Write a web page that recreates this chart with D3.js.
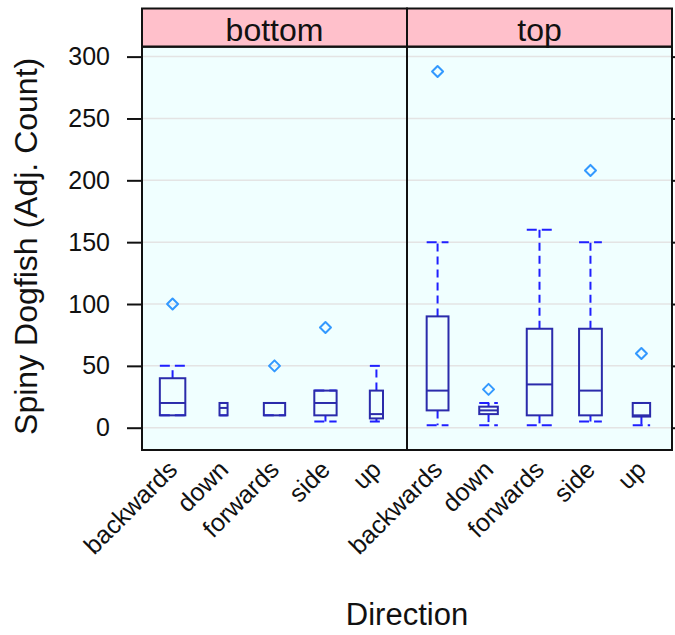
<!DOCTYPE html>
<html><head><meta charset="utf-8">
<script src="https://cdn.jsdelivr.net/npm/d3@7"></script>
<style>body{margin:0;background:#fff}</style>
</head><body>
<svg id="chart" width="675" height="635"></svg>
<script>
const panels = ["bottom", "top"];
const directions = ["backwards", "down", "forwards", "side", "up"];
const yTicks = [0, 50, 100, 150, 200, 250, 300];
// [lower whisker, Q1, median, Q3, upper whisker]
const bottomStats = [[10,10,20,40,50],[10,10,16,20,20],[10,10,20,20,20],[5,10,20,30,30],[5,7.5,11,30,50]];
const topStats = [[2,14,30,90,150],[2,11,14,17,20],[2,10,35,80,160],[5,10,30,80,150],[2,9,10,20,20]];
const bottomOutliers = [[100],[],[50],[81],[]];
const topOutliers = [[288],[31],[],[208],[60]];
const bottomN = [30,3,21,23,8];
const topN = [22,16,30,24,14];

const statsBy = {bottom: bottomStats, top: topStats};
const outBy = {bottom: bottomOutliers, top: topOutliers};
const nBy = {bottom: bottomN, top: topN};

const FONT = "'Liberation Sans', Arial, sans-serif";
const svg = d3.select("#chart");
const L = 142, R = 672, T = 46.7, B = 450, stripTop = 8.5;

const allVals = [];
panels.forEach(p => { statsBy[p].forEach(s => allVals.push(...s)); outBy[p].forEach(o => allVals.push(...o)); });
const vmin = d3.min(allVals), vmax = d3.max(allVals), pad = 0.07 * (vmax - vmin);
const y = d3.scaleLinear().domain([vmin - pad, vmax + pad]).range([B, T]);

const px = d3.scaleBand().domain(panels).range([L, R]);
const x = d3.scaleBand().domain(directions).range([0, px.bandwidth()]).paddingInner(0).paddingOuter(0.1);

const boxCol = "#2b2bab", whiskCol = "#1f1fff", outCol = "#3399ff";

panels.forEach(p => {
  const g = svg.append("g").attr("transform", `translate(${px(p)},0)`);
  const w = px.bandwidth();
  g.append("rect").attr("x",0).attr("y",T).attr("width",w).attr("height",B-T).attr("fill","#f0ffff");
  g.selectAll(".grid").data(yTicks).join("line")
    .attr("x1",0).attr("x2",w).attr("y1",d=>y(d)).attr("y2",d=>y(d))
    .attr("stroke","#e4e4e4").attr("stroke-width",1.5);
  // strip
  g.append("rect").attr("x",0).attr("y",stripTop).attr("width",w).attr("height",T-stripTop)
    .attr("fill","#ffc0cb").attr("stroke","#111").attr("stroke-width",2);
  g.append("text").attr("x",w/2).attr("y",41).attr("text-anchor","middle")
    .attr("font-family",FONT).attr("font-size",32).attr("fill","#111").text(p);

  const maxN = d3.max(nBy[p]);
  directions.forEach((d, i) => {
    const s = statsBy[p][i];
    const cx = x(d) + x.bandwidth()/2;
    const bw = x.bandwidth() * 0.5 * Math.sqrt(nBy[p][i] / maxN);
    // whiskers
    [[s[1], s[0]], [s[3], s[4]]].forEach(([a, b]) => {
      if (a !== b) g.append("line").attr("x1",cx).attr("x2",cx).attr("y1",y(a)).attr("y2",y(b))
        .attr("stroke",whiskCol).attr("stroke-width",2).attr("stroke-dasharray","8,5");
    });
    // caps
    [s[0], s[4]].forEach(v => {
      g.append("line").attr("x1",cx-bw/2).attr("x2",cx+bw/2).attr("y1",y(v)).attr("y2",y(v))
        .attr("stroke",whiskCol).attr("stroke-width",2).attr("stroke-dasharray","10,5");
    });
    // box
    g.append("rect").attr("x",cx-bw/2).attr("width",bw).attr("y",y(s[3])).attr("height",y(s[1])-y(s[3]))
      .attr("fill","none").attr("stroke",boxCol).attr("stroke-width",2);
    g.append("line").attr("x1",cx-bw/2).attr("x2",cx+bw/2).attr("y1",y(s[2])).attr("y2",y(s[2]))
      .attr("stroke",boxCol).attr("stroke-width",2);
    // outliers
    outBy[p][i].forEach(v => {
      g.append("path").attr("d","M0,-5.5L5.5,0L0,5.5L-5.5,0Z")
        .attr("transform",`translate(${cx},${y(v)})`)
        .attr("fill","none").attr("stroke",outCol).attr("stroke-width",2).attr("stroke-linejoin","round");
    });
    // x label
    g.append("text").attr("text-anchor","end").attr("dy","0.35em")
      .attr("transform",`translate(${cx},${B+15}) rotate(-45)`)
      .attr("font-family",FONT).attr("font-size",25).attr("fill","#111").text(d);
  });
  g.append("rect").attr("x",0).attr("y",T).attr("width",w).attr("height",B-T)
    .attr("fill","none").attr("stroke","#111").attr("stroke-width",2);
});

// axes
const axL = svg.append("g").attr("transform",`translate(${L},0)`)
  .call(d3.axisLeft(y).tickValues(yTicks).tickSize(15).tickPadding(17));
axL.select(".domain").remove();
axL.selectAll("line").attr("stroke","#111").attr("stroke-width",2);
axL.selectAll("text").attr("font-family",FONT).attr("font-size",25).attr("fill","#111");
const axR = svg.append("g").attr("transform",`translate(${R},0)`)
  .call(d3.axisRight(y).tickValues(yTicks).tickSize(15).tickFormat(""));
axR.select(".domain").remove();
axR.selectAll("line").attr("stroke","#111").attr("stroke-width",2);

svg.append("text").attr("transform",`translate(37,${(T+B)/2 - 2}) rotate(-90)`).attr("text-anchor","middle")
  .attr("font-family",FONT).attr("font-size",32).attr("fill","#111").text("Spiny Dogfish (Adj. Count)");
svg.append("text").attr("x",(L+R)/2).attr("y",625).attr("text-anchor","middle")
  .attr("font-family",FONT).attr("font-size",31).attr("fill","#111").text("Direction");
</script>
</body></html>
